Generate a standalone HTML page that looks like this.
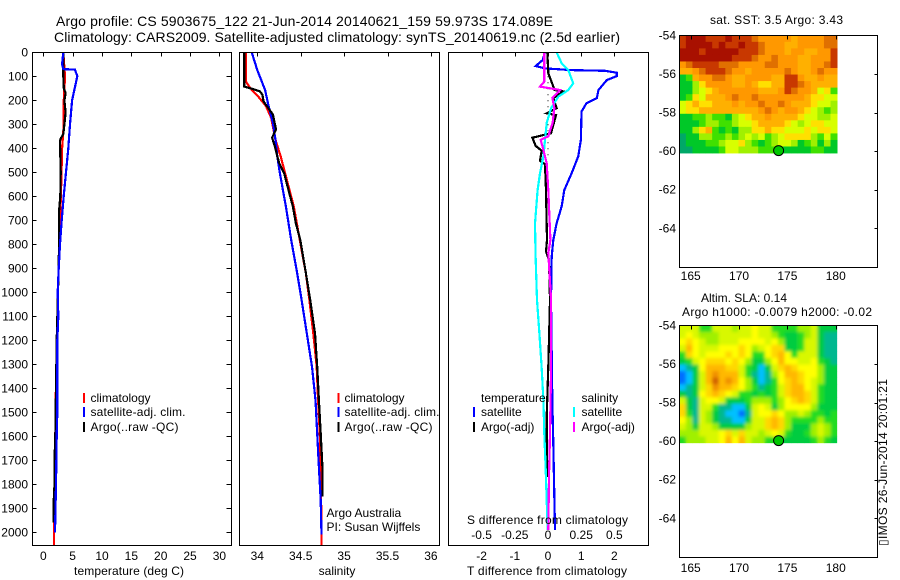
<!DOCTYPE html>
<html lang="en">
<head>
<meta charset="utf-8">
<title>Argo profile 5903675_122</title>
<style>
html,body{margin:0;padding:0;background:#fff;width:900px;height:580px;overflow:hidden}
svg{display:block}
text{font-family:"Liberation Sans",sans-serif;font-size:12px;fill:#000}
.frame{fill:none;stroke:#000;stroke-width:1;shape-rendering:crispEdges}
.title{font-size:14px}
</style>
</head>
<body>
<svg id="figure" xmlns="http://www.w3.org/2000/svg" width="900" height="580" viewBox="0 0 900 580">
  <defs>
    <filter id="soften" x="-5%" y="-5%" width="110%" height="110%"><feGaussianBlur stdDeviation="1.7"/></filter>
    <clipPath id="slaClip"><rect x="679.3" y="325.3" width="157.8" height="117.8"/></clipPath>
  </defs>
  <g id="maps">
    <g id="sstBase"></g>
    <g clip-path="url(#slaClip)">
      <g id="slaBase"></g>
      <g id="slaSoft" filter="url(#soften)"></g>
    </g>
    <g id="markers"></g>
  </g>
  <g id="series"></g>
  <g id="axes"></g>

  <text class="title" x="56" y="26" textLength="497">Argo profile: CS 5903675_122 21-Jun-2014 20140621_159 59.973S 174.089E</text>
  <text class="title" x="54" y="42" textLength="566">Climatology: CARS2009. Satellite-adjusted climatology: synTS_20140619.nc (2.5d earlier)</text>

  <rect class="frame" x="32.5" y="52.5" width="199" height="493"/>
  <rect class="frame" x="239.5" y="52.5" width="200" height="493"/>
  <rect class="frame" x="448.5" y="52.5" width="200" height="493"/>
  <rect class="frame" x="679.5" y="35.5" width="198" height="232"/>
  <rect class="frame" x="679.5" y="325.5" width="198" height="232"/>

  <text x="129" y="575" text-anchor="middle" textLength="110">temperature (deg C)</text>
  <text x="337" y="575" text-anchor="middle">salinity</text>
  <text x="547" y="575" text-anchor="middle" textLength="160">T difference from climatology</text>
  <text x="547.5" y="524" text-anchor="middle" textLength="161">S difference from climatology</text>

  <g>
    <rect x="83" y="393" width="2" height="10" fill="#f00"/>
    <rect x="83" y="407" width="2" height="10" fill="#00f"/>
    <rect x="83" y="422" width="2" height="10" fill="#000"/>
    <text x="90.5" y="402">climatology</text>
    <text x="90.5" y="416" textLength="95">satellite-adj. clim.</text>
    <text x="90.5" y="431" textLength="88">Argo(..raw -QC)</text>
  </g>
  <g>
    <rect x="337.5" y="393" width="2" height="10" fill="#f00"/>
    <rect x="337.5" y="407" width="2" height="10" fill="#00f"/>
    <rect x="337.5" y="422" width="2" height="10" fill="#000"/>
    <text x="344.5" y="402">climatology</text>
    <text x="344.5" y="416" textLength="95">satellite-adj. clim.</text>
    <text x="344.5" y="431" textLength="88">Argo(..raw -QC)</text>
    <text x="326.5" y="517">Argo Australia</text>
    <text x="326.5" y="531">PI: Susan Wijffels</text>
  </g>
  <g>
    <text x="481" y="402">temperature</text>
    <rect x="473" y="407" width="2" height="10" fill="#00f"/>
    <rect x="473" y="422" width="2" height="10" fill="#000"/>
    <text x="481" y="416">satellite</text>
    <text x="481" y="431">Argo(-adj)</text>
    <text x="581.5" y="402">salinity</text>
    <rect x="573" y="407" width="2" height="10" fill="#0ff"/>
    <rect x="573" y="422" width="2" height="10" fill="#f0f"/>
    <text x="581.5" y="416">satellite</text>
    <text x="581.5" y="431">Argo(-adj)</text>
  </g>

  <text x="776.5" y="24" text-anchor="middle" textLength="133">sat. SST: 3.5 Argo: 3.43</text>
  <text x="744" y="302" text-anchor="middle">Altim. SLA: 0.14</text>
  <text x="777" y="316" text-anchor="middle" textLength="190">Argo h1000: -0.0079 h2000: -0.02</text>
  <text transform="translate(887,546) rotate(-90)" textLength="167">▯IMOS 26-Jun-2014 20:01:21</text>
</svg>

<script>
// ---------- tick labels ----------
const depthTicks = [0,100,200,300,400,500,600,700,800,900,1000,1100,1200,1300,1400,1500,1600,1700,1800,1900,2000];
const temperatureTicks = [0,5,10,15,20,25,30];
const salinityTicks = [34,34.5,35,35.5,36];
const tDiffTicks = [-2,-1,0,1,2];
const sDiffTicks = [-0.5,-0.25,0,0.25,0.5];
const lonTicks = [165,170,175,180];
const latTicks = [-54,-56,-58,-60,-62,-64];

// ---------- temperature profiles ----------
const tempClimDepth = [0,100,200,300,400,500,600,800,1000,1200,1400,1600,1800,2000,2053];
const tempClimValues = [3.4,3.7,3.5,3.5,3.2,3.1,3.0,2.7,2.5,2.32,2.15,2.05,1.9,1.8,1.8];
const tempSatDepth = [0,50,70,72,100,200,300,400,500,600,700,800,900,1000,1100,1200,1400,1500,1600,1800,2000];
const tempSatValues = [3.4,3.2,3.4,5.4,5.8,4.9,4.55,4.26,3.87,3.47,3.13,2.85,2.62,2.45,2.56,2.39,2.39,2.39,2.28,2.16,2.0];
const tempArgoDepth = [0,100,150,170,200,250,300,340,360,370,500,600,660,800,1000,1200,1400,1600,1700,1800,1880,1960];
const tempArgoValues = [3.4,3.4,3.5,3.8,3.6,3.8,3.6,3.4,2.97,2.85,2.97,2.9,2.7,2.7,2.5,2.28,2.16,2.05,1.9,1.9,1.75,1.75];

// ---------- salinity profiles ----------
const salClimDepth = [0,122,150,184,224,273,365,434,531,643,782,921,1032,1171,1310,1449,1588,1727,2005,2053];
const salClimValues = [33.866,33.87,33.92,34.01,34.1,34.16,34.21,34.27,34.34,34.42,34.49,34.56,34.6,34.645,34.684,34.7,34.72,34.73,34.74,34.74];
const salSatDepth = [0,74,157,224,294,365,434,504,643,782,921,1032,1171,1310,1449,1588,1727,1866,2010];
const salSatValues = [33.935,34.0,34.09,34.13,34.18,34.21,34.23,34.26,34.33,34.39,34.46,34.51,34.57,34.63,34.67,34.69,34.71,34.73,34.74];
const salArgoDepth = [0,143,150,163,177,203,224,259,321,356,390,460,504,574,643,713,782,921,1032,1171,1310,1449,1588,1727,1850];
const salArgoValues = [33.85,33.85,33.92,34.03,34.06,34.07,34.11,34.18,34.215,34.17,34.2,34.25,34.31,34.36,34.41,34.445,34.495,34.56,34.61,34.665,34.69,34.71,34.73,34.75,34.75];

// ---------- differences from climatology ----------
const tDiffSatDepth = [0,32,57,67,74,77,85,99,116,157,191,212,247,365,434,504,574,643,713,782,851,1032,1449,1630,1782,1990];
const tDiffSatValues = [-0.09,-0.16,-0.37,-0.09,0.71,1.72,2.07,2.07,1.77,1.52,1.47,1.16,1.01,0.99,0.91,0.71,0.49,0.41,0.26,0.16,0.11,0.09,0.13,0.16,0.18,0.21];
const tDiffArgoDepth = [0,87,157,163,191,233,254,262,337,356,390,410,452,466,574,782,830,865,1032,1310,1518,1643,1769];
const tDiffArgoValues = [-0.02,0.01,0.2,0.46,0.16,0.26,-0.04,0.24,0.09,-0.47,-0.37,-0.19,-0.24,-0.09,-0.06,-0.03,-0.06,0.03,0.06,0.01,-0.04,-0.04,-0.01];
const sDiffSatDepth = [0,46,74,129,157,184,233,294,434,504,574,713,851,1032,1171,1310,1449,1588,1727,1866,1990];
const sDiffSatValues = [0.065,0.103,0.153,0.19,0.153,0.078,0.023,-0.01,-0.035,-0.06,-0.078,-0.098,-0.093,-0.083,-0.065,-0.048,-0.035,-0.028,-0.018,-0.01,-0.0025];
const sDiffArgoDepth = [0,122,143,157,191,233,294,350,365,407,462,574,782,837,1032,1310,1588,1769,1866,1990];
const sDiffArgoValues = [-0.028,-0.028,-0.06,0.09,0.033,0.048,0.035,0.0025,-0.055,-0.035,-0.01,0.0025,0.018,0.0025,0.023,0.023,0.015,0.0075,0.005,0.0025];
const zeroLineDepths = [100,450];

// ---------- map position ----------
const floatLon = 174.089;
const floatLat = -59.973;

// ---------- satellite SST, colour levels ----------
const sstGrid = [
 [9,10,10,10,9,9,9,10,9,9,9,8,7,7,7,7,7,6,7,7,7,7,8,8],
 [9,10,10,10,10,9,10,9,9,10,9,9,8,7,7,7,6,6,7,7,7,7,8,8],
 [10,10,10,9,10,10,10,10,10,9,9,9,8,7,7,7,6,7,7,6,6,7,7,9],
 [10,10,10,10,10,10,10,10,9,9,9,8,7,7,8,7,7,7,6,6,7,7,7,9],
 [7,8,9,9,9,9,8,8,8,7,7,7,7,8,8,7,7,7,6,6,7,7,8,9],
 [6,6,7,8,9,9,9,8,7,7,6,7,7,7,7,7,8,7,6,6,7,8,7,7],
 [1,2,6,7,7,8,8,7,6,6,7,7,7,7,6,6,9,9,7,6,6,7,6,6],
 [1,1,3,5,7,7,7,7,6,6,7,6,5,5,6,6,9,9,8,7,6,6,6,6],
 [1,1,3,4,5,6,7,7,7,7,7,7,6,6,6,7,9,8,7,7,6,4,5,2],
 [1,2,5,4,6,6,6,7,8,7,7,8,7,7,7,7,7,7,7,6,5,5,4,4],
 [4,5,6,5,5,6,6,6,7,6,7,7,8,7,7,8,7,6,6,6,5,4,4,3],
 [4,5,5,6,6,6,6,6,6,6,6,6,7,8,7,6,7,7,6,5,4,3,2,3],
 [1,1,2,2,3,2,2,1,3,4,5,6,6,7,6,6,6,6,5,4,4,3,3,4],
 [1,1,1,2,3,3,2,2,3,4,4,5,6,6,6,6,5,4,3,4,5,5,4,4],
 [1,1,3,5,6,2,1,2,1,3,3,5,5,6,5,5,4,4,4,5,4,5,5,4],
 [0,1,1,3,3,2,2,3,2,3,4,3,4,2,3,4,5,5,5,5,3,2,4,2],
 [0,1,1,1,2,2,3,4,4,5,3,2,1,2,3,4,4,3,1,2,3,1,3,1],
 [0,0,1,1,1,1,2,4,4,3,3,3,2,2,2,1,1,1,1,1,2,2,1,1]
];

// ---------- altimetric SLA, colour levels ----------
const slaGrid = [
 [6,6,6,4,4,6,6,6,5,6,6,7,6,6,4,4,4,4,5,5,6,3,3,3],
 [6,7,6,5,5,5,6,6,6,6,6,7,6,6,5,4,3,3,4,5,6,3,2,2],
 [7,8,7,6,5,5,6,6,6,7,7,7,7,6,7,5,3,3,4,6,6,3,2,2],
 [6,9,7,6,6,6,7,7,7,8,7,5,6,7,8,8,3,3,4,6,6,3,2,2],
 [4,8,7,6,7,7,7,8,7,8,7,4,4,7,8,9,7,4,6,6,6,3,2,2],
 [3,4,6,7,8,8,8,7,8,7,5,3,3,5,7,9,7,7,6,6,7,4,3,2],
 [1,2,3,7,9,9,9,8,8,6,4,3,1,3,6,8,9,8,7,7,7,5,3,3],
 [0,1,3,6,9,10,9,9,9,6,4,2,1,2,5,7,9,9,8,7,7,5,3,3],
 [0,1,3,6,9,11,9,10,9,7,5,3,1,2,4,7,8,9,8,7,6,5,3,3],
 [1,2,3,6,8,10,9,9,8,7,5,4,2,3,4,6,8,9,9,7,6,4,3,3],
 [3,2,3,7,8,9,8,7,6,4,4,3,4,3,4,6,8,9,9,8,6,4,3,3],
 [6,3,2,6,7,7,6,3,3,3,4,5,5,5,4,5,7,8,9,8,6,4,3,3],
 [8,3,2,6,6,4,2,2,1,1,3,6,7,6,3,5,7,7,7,7,5,3,3,3],
 [8,4,2,6,5,3,2,1,1,0,2,6,7,7,8,7,5,5,6,5,4,4,3,4],
 [7,5,2,6,5,3,2,2,1,1,3,6,6,8,9,8,5,4,4,4,4,5,4,4],
 [6,5,3,6,6,5,3,3,3,3,5,6,6,8,9,8,5,3,3,3,5,6,5,4],
 [5,5,5,6,6,6,7,8,6,8,6,6,5,6,7,6,4,3,3,4,5,6,5,4],
 [4,5,5,5,6,6,7,9,7,9,6,5,5,4,4,3,3,3,3,3,4,5,4,3]
];

const sstRamp = ['#00a868','#00c828','#40e000','#a0f000','#d8ff00','#ffe000','#ffb000','#ff9800','#e07000','#c83800','#a81000'];
const slaRamp = ['#0070ff','#00c0ff','#00b890','#00cc40','#20dc20','#a0f000','#d8f800','#ffff00','#ffd800','#ffb800','#f09000','#d06000'];

// ---------- axis functions ----------
const depthY = d => 52.3 + d * 0.24;
const tempX = v => 43.3 + v * 5.87;
const salX = v => 257.3 + (v - 34) * 86.8;
const tDiffX = v => 548 + v * 33.2;
const sDiffX = v => 548 + v * 132.8;
const lonX = v => 690.7 + (v - 165) * 9.67;
const sstLatY = v => 35.3 + (-54 - v) * 19.3;
const slaLatY = v => 325.3 + (-54 - v) * 19.3;

const NS = 'http://www.w3.org/2000/svg';
const seriesLayer = document.getElementById('series');
const axesLayer = document.getElementById('axes');
const markerLayer = document.getElementById('markers');

function drawProfile(name, colour, depths, values, xScale) {
  const el = document.createElementNS(NS, 'polyline');
  
  
  el.setAttribute('points', depths.map((d, i) => xScale(values[i]).toFixed(1) + ',' + depthY(d).toFixed(1)).join(' '));
  el.setAttribute('fill', 'none');
  el.setAttribute('stroke', colour);
  el.setAttribute('stroke-width', '2.2');
  el.setAttribute('shape-rendering', 'crispEdges');
  seriesLayer.appendChild(el);
}

function drawTick(name, x1, y1, x2, y2) {
  const el = document.createElementNS(NS, 'line');
  
  
  el.setAttribute('x1', Math.round(x1) + 0.5);
  el.setAttribute('y1', Math.round(y1) + 0.5);
  el.setAttribute('x2', Math.round(x2) + 0.5);
  el.setAttribute('y2', Math.round(y2) + 0.5);
  el.setAttribute('stroke', '#000');
  el.setAttribute('shape-rendering', 'crispEdges');
  axesLayer.appendChild(el);
}

function drawLabel(name, x, y, anchor, content) {
  const el = document.createElementNS(NS, 'text');
  
  
  el.setAttribute('x', x);
  el.setAttribute('y', y);
  el.setAttribute('text-anchor', anchor);
  el.textContent = content;
  axesLayer.appendChild(el);
}

function drawGrid(parent, name, grid, latY, ramp) {
  const lonLeft = 163.82, lonRight = 180.14, latTop = -54, latBottom = -60.1;
  const rows = grid.length, cols = grid[0].length;
  const lonStep = (lonRight - lonLeft) / cols, latStep = (latTop - latBottom) / rows;
  grid.forEach((row, r) => row.forEach((level, c) => {
    const el = document.createElementNS(NS, 'rect');
    
    
    const x0 = lonX(lonLeft + c * lonStep), x1 = lonX(lonLeft + (c + 1) * lonStep);
    const y0 = latY(latTop - r * latStep), y1 = latY(latTop - (r + 1) * latStep);
    el.setAttribute('x', x0.toFixed(2));
    el.setAttribute('y', y0.toFixed(2));
    el.setAttribute('width', (x1 - x0 + 0.4).toFixed(2));
    el.setAttribute('height', (y1 - y0 + 0.4).toFixed(2));
    const idx = Math.max(0, Math.min(ramp.length - 1, Math.round(level)));
    el.setAttribute('fill', ramp[idx]);
    parent.appendChild(el);
  }));
}

function drawFloatMarker(name, lon, lat, latY) {
  const el = document.createElementNS(NS, 'circle');
  
  
  el.setAttribute('cx', lonX(lon).toFixed(1));
  el.setAttribute('cy', latY(lat).toFixed(1));
  el.setAttribute('r', '5');
  el.setAttribute('fill', '#00c800');
  el.setAttribute('stroke', '#000');
  el.setAttribute('stroke-width', '1');
  markerLayer.appendChild(el);
}

// ---------- maps ----------
drawGrid(document.getElementById('sstBase'), 'sst-cell', sstGrid, sstLatY, sstRamp);
drawGrid(document.getElementById('slaBase'), 'sla-cell', slaGrid, slaLatY, slaRamp);
drawGrid(document.getElementById('slaSoft'), 'sla-cell-smoothed', slaGrid, slaLatY, slaRamp);
drawFloatMarker('sst-float-position', floatLon, floatLat, sstLatY);
drawFloatMarker('sla-float-position', floatLon, floatLat, slaLatY);

// ---------- zero reference ----------
const zeroLine = document.createElementNS(NS, 'line');


zeroLine.setAttribute('x1', tDiffX(0));
zeroLine.setAttribute('x2', tDiffX(0));
zeroLine.setAttribute('y1', depthY(zeroLineDepths[0]));
zeroLine.setAttribute('y2', depthY(zeroLineDepths[1]));
zeroLine.setAttribute('stroke', '#000');
zeroLine.setAttribute('stroke-dasharray', '1 5');
seriesLayer.appendChild(zeroLine);

// ---------- profiles ----------
drawProfile('temperature-climatology-line', '#f00', tempClimDepth, tempClimValues, tempX);
drawProfile('temperature-argo-line', '#000', tempArgoDepth, tempArgoValues, tempX);
drawProfile('temperature-satellite-line', '#00f', tempSatDepth, tempSatValues, tempX);
drawProfile('salinity-climatology-line', '#f00', salClimDepth, salClimValues, salX);
drawProfile('salinity-satellite-line', '#00f', salSatDepth, salSatValues, salX);
drawProfile('salinity-argo-line', '#000', salArgoDepth, salArgoValues, salX);
drawProfile('t-difference-satellite-line', '#00f', tDiffSatDepth, tDiffSatValues, tDiffX);
drawProfile('t-difference-argo-line', '#000', tDiffArgoDepth, tDiffArgoValues, tDiffX);
drawProfile('s-difference-satellite-line', '#0ff', sDiffSatDepth, sDiffSatValues, sDiffX);
drawProfile('s-difference-argo-line', '#f0f', sDiffArgoDepth, sDiffArgoValues, sDiffX);

// ---------- ticks and labels ----------
depthTicks.forEach(d => {
  drawTick('depth-tick-left', 32, depthY(d), 36, depthY(d));
  drawTick('depth-tick-right', 231, depthY(d), 226, depthY(d));
  drawLabel('depth-tick-label', 28, depthY(d) + 4, 'end', String(d));
});
temperatureTicks.forEach(v => {
  drawTick('temperature-tick', tempX(v), 52, tempX(v), 56);
  drawLabel('temperature-tick-label', tempX(v), 560, 'middle', String(v));
});
salinityTicks.forEach(v => {
  drawTick('salinity-tick', salX(v), 52, salX(v), 56);
  drawLabel('salinity-tick-label', salX(v), 560, 'middle', String(v));
});
tDiffTicks.forEach(v => {
  drawTick('t-difference-tick', tDiffX(v), 52, tDiffX(v), 56);
  drawLabel('t-difference-tick-label', tDiffX(v), 560, 'middle', String(v));
});
sDiffTicks.forEach(v => {
  drawLabel('s-difference-tick-label', sDiffX(v), 539, 'middle', String(v));
});
lonTicks.forEach(v => {
  drawTick('sst-lon-tick', lonX(v), 35, lonX(v), 39);
  drawTick('sla-lon-tick', lonX(v), 325, lonX(v), 329);
  drawLabel('sst-lon-tick-label', lonX(v), 280, 'middle', String(v));
  drawLabel('sla-lon-tick-label', lonX(v), 572, 'middle', String(v));
});
latTicks.forEach(v => {
  drawTick('sst-lat-tick', 877, sstLatY(v), 874, sstLatY(v));
  drawTick('sla-lat-tick', 877, slaLatY(v), 874, slaLatY(v));
  drawLabel('sst-lat-tick-label', 676, sstLatY(v) + 4, 'end', String(v));
  drawLabel('sla-lat-tick-label', 676, slaLatY(v) + 4, 'end', String(v));
});
</script>
</body>
</html>
